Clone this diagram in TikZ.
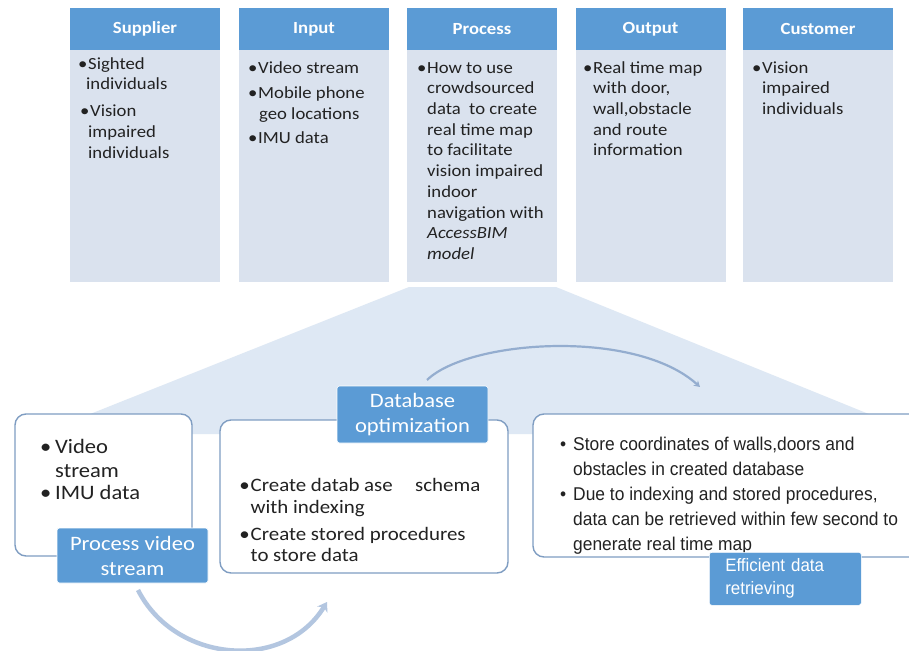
\documentclass[tikz,border=0pt]{standalone}
\usepackage{fontspec}
\setmainfont{Carlito}[FakeStretch=1.1]
\newfontfamily\arialf{Liberation Sans}[FakeStretch=0.94]
\usetikzlibrary{arrows.meta}
\definecolor{hdrblue}{HTML}{5B9BD5}
\definecolor{bodyfill}{HTML}{DAE2EE}
\definecolor{funnelc}{HTML}{DEE8F4}
\definecolor{boxline}{HTML}{7F9DC2}
\definecolor{arctop}{HTML}{94ADCF}
\definecolor{arcbot}{HTML}{B3C6E0}
\definecolor{txt}{HTML}{222222}
\newcommand{\bu}[1][6pt]{\makebox[#1][r]{•\kern0.8pt}}
\newcommand{\bl}[1][12pt]{\makebox[#1][l]{•}}
\newcommand{\ind}[1][6pt]{\hspace*{#1}}
\tikzset{
  hdr/.style={fill=hdrblue, text=white, font=\bfseries\fontsize{17}{20}\selectfont,
    minimum width=150pt, minimum height=42pt, inner sep=0pt},
  bodyr/.style={fill=bodyfill, minimum width=150pt, minimum height=232pt, inner sep=0pt},
  btxt/.style={anchor=north west, align=left, inner sep=0pt, text=txt,
    font=\fontsize{17}{20.7}\selectfont},
  rbox/.style={draw=boxline, line width=1.4pt, rounded corners=11pt, fill=white, inner sep=0pt},
  lbl/.style={fill=hdrblue, draw=white, line width=0.6pt, rounded corners=2.5pt, text=white,
    inner sep=0pt, align=center, font=\fontsize{20.5}{25}\selectfont},
}
\begin{document}
\begin{tikzpicture}[x=1pt,y=-1pt]
\useasboundingbox (0,0) rectangle (909,650);
\fill[white] (0,0) rectangle (909,650);
\clip (0,0) rectangle (909,650);

% funnel
\fill[funnelc] (409,287) -- (556,287) -- (918,434) -- (40,434) -- cycle;

% top row
\node[bodyr] (b1) at (145,166) {};
\node[bodyr] (b2) at (314,166) {};
\node[bodyr] (b3) at (482,166) {};
\node[bodyr] (b4) at (650.5,166) {};
\node[bodyr] (b5) at (818,166) {};
\node[hdr] (h1) at (145,29) {Supplier};
\node[hdr] (h2) at (314,29) {Input};
\node[hdr] (h3) at (482,29) {Process};
\node[hdr] (h4) at (650.5,29) {Output};
\node[hdr] (h5) at (818,29) {Customer};

\node[btxt] (t1) at (82,54.5) {\strut\bu Sighted\\ \ind[4pt]individuals\\[6.3pt]
  \bu[8pt]Vision\\ \ind[6pt]impaired\\ \ind[6pt]individuals};
\node[btxt] (t2) at (250,58.5) {\strut\bu[8pt]Video stream\\[4.5pt]
  \bu[8pt]Mobile phone\\ \ind[9pt]geo locations\\[3.5pt] \bu[8pt]IMU data};
\node[btxt] (t3) at (421,58.5) {\strut\bu How to use\\ \ind crowdsourced\\ \ind data\ \ to create\\
  \ind real time map\\ \ind to facilitate\\ \ind vision impaired\\ \ind indoor\\
  \ind navigation with\\ \ind\textit{AccessBIM}\\ \ind\textit{model}};
\node[btxt] (t4) at (587,58.5) {\strut\bu Real time map\\ \ind with door,\\ \ind wall,obstacle\\
  \ind and route\\ \ind information};
\node[btxt] (t5) at (755,58.5) {\strut\bu[7pt]Vision\\ \ind[7pt]impaired\\ \ind[7pt]individuals};

% bottom row boxes
\node[rbox, minimum width=177pt, minimum height=142pt] (bx1) at (103.5,485) {};
\node[rbox, minimum width=288pt, minimum height=153pt] (bx2) at (364,496.5) {};
\node[rbox, minimum width=390pt, minimum height=143pt] (bx3) at (728,485.5) {};

\node[btxt, font=\fontsize{20.5}{24}\selectfont] (t6) at (40,436) {\strut\bl[15pt]Video\\
  \ind[15pt]stream\\[-1.5pt] \bl[15pt]IMU data};
\node[btxt, font=\fontsize{19}{21.5}\selectfont] (t7) at (245,476.3) {\strut\makebox[170pt][l]{\bu[5.5pt]Create datab ase}schema\\
  \ind[5.5pt]with indexing\\[5.5pt] \bu[5.5pt]Create stored procedures\\ \ind[5.5pt]to store data};
\node[btxt, font=\arialf\fontsize{18.5}{25}\selectfont] (t8) at (560,432.3) {\strut\bl[13pt]Store coordinates of walls,doors and\\
  \ind[13pt]obstacles in created database\\ \bl[13pt]Due to indexing and stored procedures,\\
  \ind[13pt]data can be retrieved within few second to\\ \ind[13pt]generate real time map};

% labels
\node[lbl, minimum width=151pt, minimum height=55pt] (l1) at (132.5,555.5) {Process video\\stream};
\node[lbl, minimum width=151pt, minimum height=57pt] (l2) at (412.5,414.5) {Database\\optimization};
\node[lbl, minimum width=152pt, minimum height=53pt, align=left, anchor=north west,
  font=\arialf\fontsize{18}{23}\selectfont, inner xsep=16pt, text width=120pt] (l3) at (709,552)
  {Efficient data\\retrieving};

% arcs
\coordinate (a1s) at (138,590);
\coordinate (a1e) at (327,602);
\coordinate (a2s) at (427,380);
\coordinate (a2e) at (700,387);
\draw[arcbot, line width=4.5pt, -{Stealth[length=9pt,width=12pt]}]
  (a1s) .. controls (175,663) and (284,672) .. (a1e);
\draw[arctop, line width=2.2pt, -{Stealth[length=6pt,width=7pt]}]
  (a2s) .. controls (468,340) and (635,328) .. (a2e);
\end{tikzpicture}
\end{document}
